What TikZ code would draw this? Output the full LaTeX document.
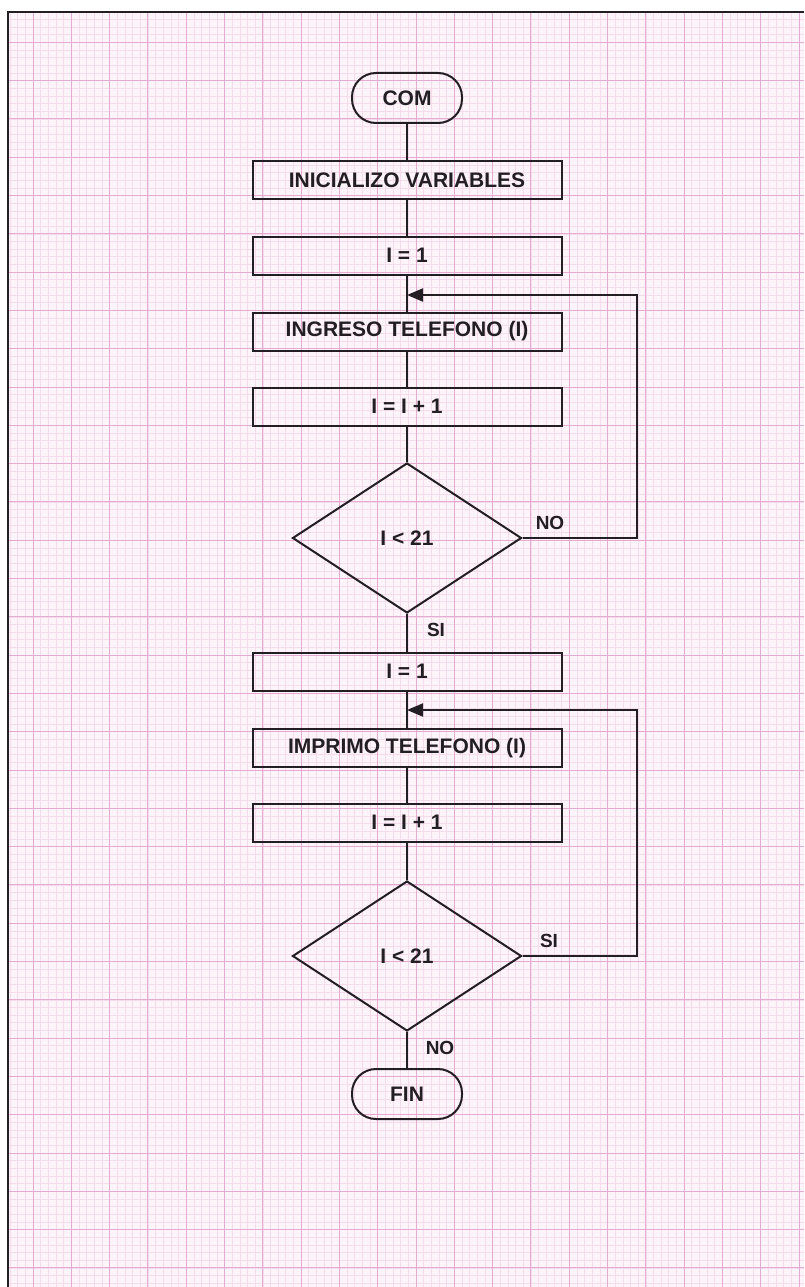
\documentclass[tikz,border=0pt]{standalone}
\usepackage{fontspec}
\setmainfont{Liberation Sans}
\usetikzlibrary{shapes.geometric,arrows.meta}
\definecolor{paper}{RGB}{253,244,250}
\definecolor{minorc}{RGB}{245,220,237}
\definecolor{majorc}{RGB}{228,172,208}
\definecolor{ink}{RGB}{35,30,35}
\begin{document}
\begin{tikzpicture}[x=1pt,y=-1pt,
  txt/.style={font=\fontsize{21}{24}\selectfont\bfseries, text=ink},
  procbox/.style={txt, draw=ink, line width=2pt, minimum width=309pt, minimum height=38pt, inner sep=0pt},
  termbox/.style={txt, draw=ink, line width=2pt, rounded corners=24pt, minimum width=110pt, minimum height=50pt, inner sep=0pt},
  decbox/.style={txt, draw=ink, line width=2pt, diamond, minimum width=229pt, minimum height=150pt, inner sep=0pt},
  conn/.style={draw=ink, line width=2pt},
  looparrow/.style={conn, -{Triangle[length=16pt,width=13pt]}},
  lbl/.style={font=\fontsize{19}{22}\selectfont\bfseries, text=ink, inner sep=0pt}
]
\useasboundingbox (0,0) rectangle (804,1287);
\fill[white] (0,0) rectangle (804,1287);
\fill[paper] (8,12) rectangle (804,1287);
\begin{scope}
  \clip (8,12) rectangle (804,1287);
  \foreach \k in {-4,...,101} \draw[minorc, line width=0.6pt] ({33+\k*7.66},0) -- ({33+\k*7.66},1287);
  \foreach \k in {0,...,168} \draw[minorc, line width=0.6pt] (0,{4+\k*7.66}) -- (804,{4+\k*7.66});
  \foreach \k in {-1,...,20} \draw[majorc, line width=1pt] ({33+\k*38.3},0) -- ({33+\k*38.3},1287);
  \foreach \k in {0,...,34} \draw[majorc, line width=1pt] (0,{4+\k*38.3}) -- (804,{4+\k*38.3});
\end{scope}
\draw[ink, line width=2.6pt] (8,1287) -- (8,12) -- (804,12);

% nodes
\node[termbox] (com) at (407,98) {COM};
\node[procbox] (ini) at (407,180) {INICIALIZO VARIABLES};
\node[procbox] (ia) at (407,255.5) {I = 1};
\node[procbox] (ing) at (407,331.5) {INGRESO TELEFONO (I)};
\node[procbox] (inca) at (407,406.5) {I = I + 1};
\node[decbox] (da) at (407,538) {I < 21};
\node[procbox] (ib) at (407,671.5) {I = 1};
\node[procbox] (imp) at (407,748) {IMPRIMO TELEFONO (I)};
\node[procbox] (incb) at (407,822.5) {I = I + 1};
\node[decbox] (db) at (407,956) {I < 21};
\node[termbox] (fin) at (407,1094) {FIN};

\coordinate (ma) at (407,295);
\coordinate (ra) at (637,295);
\coordinate (mb) at (407,710);
\coordinate (rb) at (637,710);

% connectors
\draw[conn] (com) -- (ini);
\draw[conn] (ini) -- (ia);
\draw[conn] (ia) -- (ing);
\draw[conn] (ing) -- (inca);
\draw[conn] (inca) -- (da);
\draw[looparrow] (da.east) -| (ra) -- (ma);
\draw[conn] (da) -- (ib);
\draw[conn] (ib) -- (imp);
\draw[conn] (imp) -- (incb);
\draw[conn] (incb) -- (db);
\draw[looparrow] (db.east) -| (rb) -- (mb);
\draw[conn] (db) -- (fin);

% labels
\node[lbl] (noa) at (550,523) {NO};
\node[lbl] (sia) at (436,630) {SI};
\node[lbl] (sib) at (549,941) {SI};
\node[lbl] (nob) at (440,1048) {NO};
\end{tikzpicture}
\end{document}
